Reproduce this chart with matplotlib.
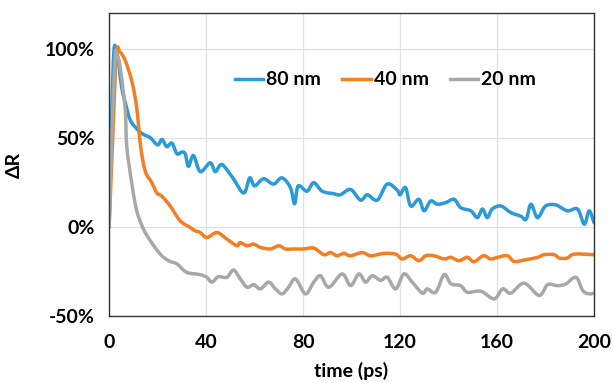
import matplotlib
matplotlib.use("Agg")
import matplotlib.pyplot as plt
from matplotlib.ticker import FuncFormatter
from matplotlib.path import Path
from matplotlib.patches import PathPatch
from matplotlib.lines import Line2D

plt.rcParams['font.family'] = ['Lato', 'DejaVu Sans']
plt.rcParams['font.weight'] = 'bold'

# 80 nm (blue)
t80 = [0, 1, 2, 3, 4, 5.2, 7, 8.7, 11.4, 14, 17, 20, 21.8, 23.8, 25.9, 28, 30, 31.4, 32.7, 34.8,
       37.6, 41.7, 43.8, 46.5, 51, 55.5, 58, 60, 63.7, 67.8, 71.3, 74.8, 76.5, 78, 81.6, 84.4,
       87.9, 92.7, 95.4, 99.6, 103.7, 106.5, 110.6, 114.7, 118.9, 120, 122.3, 124.4, 127.8,
       129.9, 132.6, 135.4, 138.8, 142.3, 145, 149.2, 151.9, 154, 156, 158, 161.6, 165.7,
       169.8, 172, 174, 176.7, 180, 184.3, 189, 193.2, 196, 198, 200]
v80 = [0, 60, 99, 98, 91, 78, 68, 60, 55, 52, 50, 46, 49, 45, 47, 41, 42, 41, 34, 40,
       31, 36, 31, 35, 27.5, 19, 27.5, 23, 27, 24, 27.5, 22, 13, 23, 20, 24.8,
       20, 18.6, 18, 21, 15, 18, 15, 24, 20.5, 18, 22, 11.7, 15.5,
       9, 14.5, 12.7, 13.6, 15.5, 10.8, 9, 5.2, 10, 5.2, 10, 11.7, 8,
       6, 4.3, 12.7, 5.2, 11.7, 12.3, 9, 10, 1.5, 9, 2.4]

# 40 nm (orange)
t40 = [0, 1.5, 3, 4.5, 6.6, 9.4, 11.4, 13, 14.9, 17.6, 19.7, 21.7, 25.2, 29.3, 33.5, 35.5,
       37.6, 40.3, 44.5, 48.6, 52.7, 54, 56.9, 59.6, 62.4, 66.5, 70, 72.7, 76, 80.3, 84.4,
       88.6, 91.3, 94, 96.8, 99.6, 104.4, 107.9, 113.3, 118.2, 120.9, 124.4, 127.8, 130.6,
       134, 138.2, 141, 144.3, 147.8, 150.5, 154.4, 157.4, 160.2, 164.3, 167, 171.2,
       176.7, 179.4, 183.6, 185.7, 189, 191.8, 200]
v40 = [0, 50, 97, 98, 93.5, 81.6, 66.6, 45, 31.3, 24.8, 19, 17.3, 11.7, 3.4, -0.4, -2.2,
       -3.2, -6, -3.2, -6.9, -10.6, -8.8, -10.6, -9.7, -11.5, -12.4, -10.6, -12.4, -12.4, -12.4, -11.9,
       -15.6, -14.4, -16.2, -14.9, -16.2, -14.4, -16.2, -14.9, -15.3, -18, -16.2, -19, -16.2,
       -16.2, -18, -17.1, -19, -17.1, -19.6, -16.2, -18, -17.1, -16.2, -19.4, -18.6,
       -17.1, -15.6, -15.6, -17.5, -17.5, -15.3, -15.6]

# 20 nm (gray)
t20 = [0, 1.2, 2.5, 3.2, 4.5, 6.6, 7.3, 9.4, 11.4, 14.2, 17, 21.1, 24.5, 28, 32, 37.6, 40.3,
       42.4, 45, 48.6, 51.3, 54.1, 56.9, 59.6, 62.4, 65.8, 68.6, 71.4, 74, 76.9, 81, 84.4,
       87.2, 90.6, 96.1, 99.6, 103, 105.8, 108.5, 112, 114.7, 118.2, 121.6, 125, 129.2,
       131.2, 134.7, 138.2, 141, 145, 147.8, 153.3, 158.8, 162.3, 165.7, 171.2, 177.4,
       180.9, 185, 188.4, 192.6, 195.4, 198, 200]
v20 = [0, 55, 95, 97, 90, 66.6, 45, 24, 9, -1.3, -7.8, -15.3, -19, -20.8, -25.5, -26.8, -28.3,
       -31, -28, -28.3, -24.2, -29.2, -33.9, -32.4, -34.8, -31, -34.8, -37.6, -33.9, -29.2, -37.6, -31,
       -27.4, -33.9, -26.4, -33, -26.4, -31, -27.4, -30, -28.3, -34.8, -26.4, -31, -37.2,
       -34.8, -36.7, -26.8, -32, -33, -36.7, -36.1, -40.4, -34.8, -37.2, -31.6, -38.5,
       -32.4, -33, -32, -28.3, -35.8, -37.6, -37.2]

labels = ['80 nm', '40 nm', '20 nm']
colors = ['#2a9ad8', '#f47e22', '#a8a8a8']


def smooth_path(xs, ys):
    # Excel-like smoothed line: cubic Bezier segments through the data points
    pts = list(zip(xs, ys))
    verts = [pts[0]]
    codes = [Path.MOVETO]
    n = len(pts)
    for i in range(n - 1):
        p0 = pts[i - 1] if i > 0 else pts[i]
        p1 = pts[i]
        p2 = pts[i + 1]
        p3 = pts[i + 2] if i + 2 < n else pts[i + 1]
        c1 = (p1[0] + (p2[0] - p0[0]) / 6, p1[1] + (p2[1] - p0[1]) / 6)
        c2 = (p2[0] - (p3[0] - p1[0]) / 6, p2[1] - (p3[1] - p1[1]) / 6)
        verts += [c1, c2, p2]
        codes += [Path.CURVE4] * 3
    return Path(verts, codes)


fig = plt.figure(figsize=(6.13, 3.83), dpi=100)
ax = fig.add_axes([0.178, 0.175, 0.791, 0.791])

handles = []
for t, v, lab, c in zip([t80, t40, t20], [v80, v40, v20], labels, colors):
    path = smooth_path(t, [x / 100 for x in v])
    patch = PathPatch(path, facecolor='none', edgecolor=c, lw=2.5,
                      joinstyle='round', capstyle='round')
    ax.add_patch(patch)
    handles.append(Line2D([], [], color=c, lw=2.5, label=lab))

ax.set_xlim(0, 200)
ax.set_ylim(-0.5, 1.2)
ax.set_xticks([0, 40, 80, 120, 160, 200])
ax.set_yticks([-0.5, 0, 0.5, 1.0])
ax.yaxis.set_major_formatter(FuncFormatter(lambda y, p: f"{y*100:.0f}%"))
ax.grid(True, color='#e0e0e0', lw=0.9)
ax.set_axisbelow(True)
for s in ax.spines.values():
    s.set_color('#333333')
    s.set_linewidth(1.0)
ax.tick_params(length=0, labelsize=14)
ax.tick_params(axis='x', pad=13)
ax.tick_params(axis='y', pad=10)
for lab in ax.get_xticklabels() + ax.get_yticklabels():
    lab.set_fontweight('bold')

ax.set_xlabel('time (ps)', fontsize=14, fontweight='bold', labelpad=8)
ax.set_ylabel('ΔR', fontsize=14, fontweight='bold', labelpad=16)

leg = ax.legend(handles=handles, loc='center', bbox_to_anchor=(0.57, 0.779), ncol=3,
                frameon=False, handlelength=1.45, handletextpad=0.15, columnspacing=1.1,
                prop={'weight': 'bold', 'size': 14})

fig.savefig('out.png', dpi=100)
